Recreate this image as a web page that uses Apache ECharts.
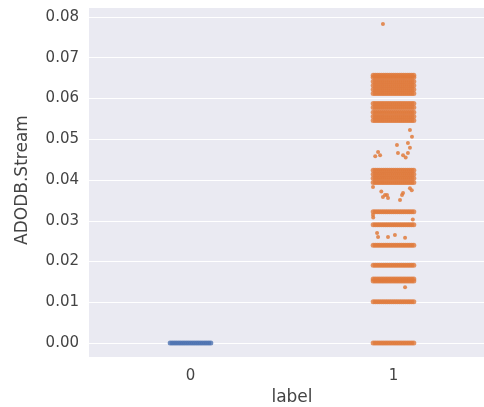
<!DOCTYPE html>
<html>
<head>
<meta charset="utf-8">
<script src="https://cdn.jsdelivr.net/npm/echarts@6/dist/echarts.min.js"></script>
<style>
  html, body { margin: 0; padding: 0; background: #fff; }
  #chart { width: 484px; height: 407px; }
</style>
</head>
<body>
<div id="chart"></div>
<script>
// strip plot: ADODB.Stream by label
var categories = ['0', '1']

// horizontal jitter offsets (in category units)
var jitter = [-0.1, -0.09, -0.08, -0.07, -0.06, -0.05, -0.04, -0.03, -0.02, -0.01, 0,
  0.01, 0.02, 0.03, 0.04, 0.05, 0.06, 0.07, 0.08, 0.09, 0.1]

// dense value levels (one row of jittered points each)
var label0Levels = [0]
var label1Levels = [0, 0.0101, 0.0152, 0.0157, 0.0191, 0.024, 0.029, 0.0322,
  0.0394, 0.0404, 0.0414, 0.0424,
  0.0546, 0.0556, 0.0566, 0.0578, 0.0588,
  0.0612, 0.0622, 0.0632, 0.0642, 0.0652, 0.0657]

// scattered points for label 1: [offset, value]
var label1Stray = [
  [-0.052, 0.0783],
  [0.081, 0.0523], [0.091, 0.0506], [0.017, 0.0486], [0.071, 0.0491],
  [-0.076, 0.0469], [-0.066, 0.0461], [0.022, 0.0466], [0.047, 0.0461],
  [0.071, 0.0466], [0.081, 0.0479], [-0.09, 0.0458], [0.06, 0.0455],
  [0.047, 0.0368], [-0.032, 0.0363], [0.081, 0.038], [-0.101, 0.0383],
  [0.09, 0.0375], [-0.06, 0.0372],
  [-0.042, 0.0363], [-0.027, 0.0356], [0.042, 0.0363], [0.032, 0.0351],
  [-0.052, 0.0358], [-0.101, 0.0314], [0.095, 0.0303], [-0.1, 0.0308],
  [-0.081, 0.027], [-0.027, 0.026], [0.007, 0.0265], [0.057, 0.0258],
  [-0.076, 0.026], [0.057, 0.0137]
]

var chart = echarts.init(document.getElementById('chart'))

function buildPoints(center, levels) {
  var pts = []
  levels.forEach(function (v) {
    jitter.forEach(function (j) {
      pts.push([center + j, v])
    })
  })
  return pts
}

var data0 = buildPoints(0, label0Levels)
var data1 = buildPoints(1, label1Levels)
var stray1 = label1Stray.map(function (p) {
  return [1 + p[0], p[1]]
})

var textColor = '#444444'

var options = {
  animation: false,
  graphic: [
    {
      type: 'rect',
      z: -10,
      shape: { x: 89, y: 8, width: 400, height: 349 },
      style: { fill: '#eaeaf2' }
    }
  ],
  grid: {
    left: 89,
    top: 17,
    width: 406,
    height: 326,
    outerBoundsMode: 'none'
  },
  xAxis: [
    {
      type: 'value',
      min: -0.5,
      max: 1.5,
      show: false
    },
    {
      type: 'category',
      data: categories,
      position: 'bottom',
      offset: 14,
      boundaryGap: true,
      axisLine: { show: false },
      axisTick: { show: false },
      splitLine: { show: false },
      axisLabel: {
        margin: 12,
        color: textColor,
        fontFamily: 'DejaVu Sans',
        fontSize: 15
      },
      name: 'label',
      nameLocation: 'middle',
      nameGap: 32,
      nameTextStyle: {
        color: textColor,
        fontFamily: 'DejaVu Sans',
        fontSize: 17
      }
    }
  ],
  yAxis: {
    type: 'value',
    min: 0,
    max: 0.08,
    interval: 0.01,
    axisLine: { show: false },
    axisTick: { show: false },
    splitLine: { lineStyle: { color: '#ffffff', width: 1 } },
    axisLabel: {
      margin: 10,
      color: textColor,
      fontFamily: 'DejaVu Sans',
      fontSize: 15,
      formatter: function (v) { return v.toFixed(2) }
    },
    name: 'ADODB.Stream',
    nameLocation: 'middle',
    nameGap: 58,
    nameTextStyle: {
      color: textColor,
      fontFamily: 'DejaVu Sans',
      fontSize: 17
    }
  },
  series: [
    {
      name: '0',
      type: 'scatter',
      xAxisIndex: 0,
      symbolSize: 5,
      clip: false,
      itemStyle: { color: '#4c72b0' },
      data: data0
    },
    {
      name: '1',
      type: 'scatter',
      xAxisIndex: 0,
      symbolSize: 5,
      clip: false,
      itemStyle: { color: '#e07b3c' },
      data: data1
    },
    {
      name: '1 stray',
      type: 'scatter',
      xAxisIndex: 0,
      symbolSize: 4,
      clip: false,
      itemStyle: { color: '#e07b3c', opacity: 0.85 },
      data: stray1
    }
  ]
}

chart.setOption(options)
</script>
</body>
</html>
